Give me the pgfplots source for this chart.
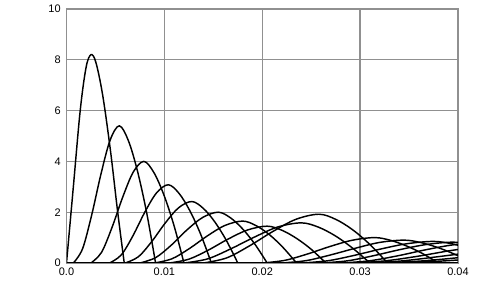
\documentclass[border=0pt]{standalone}
\usepackage{fontspec}
\setmainfont{Liberation Sans}
\usepackage{pgfplots}
\pgfplotsset{compat=1.18}
\definecolor{gridgray}{HTML}{909090}
\begin{document}
\fontsize{11}{12}\selectfont
\begin{tikzpicture}
\begin{axis}[
  at={(0,0)}, anchor=south west,
  scale only axis, width=391.5bp, height=254bp,
  xmin=0, xmax=0.04, ymin=0, ymax=10,
  scaled x ticks=false, scaled y ticks=false,
  xtick={0,0.01,0.02,0.03,0.04},
  xticklabels={0.0,0.01,0.02,0.03,0.04},
  ytick={0,2,4,6,8,10},
  yticklabels={0,2,4,6,8,10},
  major tick length=0pt,
  grid=major,
  grid style={gridgray, line width=1.3bp},
  axis line style={gridgray, line width=1.3bp},
  xticklabel style={yshift=-4bp, inner sep=1bp},
  yticklabel style={xshift=-2bp},
  /pgf/number format/assume math mode=true,
  clip=true,
  curve/.style={black, line width=1.45bp, smooth, tension=0.55},
]
% curve 1
\addplot[curve] coordinates {(0,0) (0.0007,3.0) (0.0014,6.0) (0.002,7.7) (0.0025,8.2) (0.003,7.9) (0.0037,6.6) (0.0045,4.4) (0.0052,2.1) (0.0059,0)};
% curve 2
\addplot[curve] coordinates {(0.0007,0) (0.00164,0.56) (0.00258,1.90) (0.00352,3.50) (0.00446,4.84) (0.0054,5.4) (0.00633,4.81) (0.00725,3.62) (0.00818,2.0) (0.0091,0)};
% curve 3
\addplot[curve] coordinates {(0.0025,0) (0.00358,0.42) (0.00466,1.41) (0.00574,2.59) (0.00682,3.58) (0.0079,4.0) (0.00893,3.56) (0.00995,2.68) (0.01098,1.48) (0.012,0)};
% curve 4
\addplot[curve] coordinates {(0.0044,0) (0.0056,0.32) (0.0068,1.08) (0.008,2.0) (0.0092,2.76) (0.0104,3.08) (0.0115,2.74) (0.0126,2.06) (0.0137,1.14) (0.0148,0)};
% curve 5
\addplot[curve] coordinates {(0.006,0) (0.00736,0.25) (0.00872,0.85) (0.01008,1.57) (0.01144,2.17) (0.0128,2.42) (0.01398,2.15) (0.01515,1.62) (0.01633,0.89) (0.0175,0)};
% curve 6
\addplot[curve] coordinates {(0.0075,0) (0.0091,0.21) (0.0107,0.70) (0.0123,1.30) (0.0139,1.79) (0.0155,2.0) (0.01675,1.78) (0.018,1.34) (0.01925,0.74) (0.0205,0)};
% curve 7
\addplot[curve] coordinates {(0.009,0) (0.0108,0.17) (0.0126,0.58) (0.0144,1.07) (0.0162,1.48) (0.018,1.65) (0.019375,1.47) (0.02075,1.11) (0.022125,0.61) (0.0235,0)};
% curve 8
\addplot[curve] coordinates {(0.0105,0) (0.0125,0.15) (0.0145,0.51) (0.0165,0.94) (0.0185,1.30) (0.0205,1.45) (0.022,1.29) (0.0235,0.97) (0.025,0.54) (0.0265,0)};
% curve 9
\addplot[curve] coordinates {(0.012,0) (0.0144,0.16) (0.0168,0.56) (0.0192,1.02) (0.0216,1.42) (0.024,1.58) (0.02575,1.41) (0.0275,1.06) (0.02925,0.58) (0.031,0)};
% curve 10
\addplot[curve] coordinates {(0.014,0) (0.01636,0.20) (0.01872,0.68) (0.02108,1.24) (0.02344,1.72) (0.0258,1.92) (0.02755,1.71) (0.0293,1.29) (0.03105,0.71) (0.0328,0)};
% curve 11
\addplot[curve] coordinates {(0.020,0) (0.0223,0.104) (0.0246,0.352) (0.0269,0.648) (0.0292,0.896) (0.0315,1.0) (0.03313,0.89) (0.03475,0.67) (0.03638,0.37) (0.038,0)};
% curve 12
\addplot[curve] coordinates {(0.022,0) (0.0245,0.094) (0.027,0.32) (0.0295,0.58) (0.032,0.81) (0.0345,0.9) (0.03625,0.80) (0.038,0.60) (0.03975,0.33) (0.0415,0)};
% curve 13
\addplot[curve] coordinates {(0.024,0) (0.0267,0.088) (0.0294,0.30) (0.0321,0.55) (0.0348,0.76) (0.0375,0.85) (0.039375,0.757) (0.04125,0.57)};
% curve 14
\addplot[curve] coordinates {(0.026,0) (0.0287,0.085) (0.0314,0.29) (0.0341,0.53) (0.0368,0.73) (0.0395,0.82) (0.0415,0.73)};
% curve 15
\addplot[curve] coordinates {(0.028,0) (0.0309,0.083) (0.0338,0.28) (0.0367,0.52) (0.0396,0.72) (0.0425,0.8)};
% curve 16
\addplot[curve] coordinates {(0.029,0) (0.0324,0.078) (0.0358,0.26) (0.0392,0.486) (0.0426,0.67)};
% curve 17
\addplot[curve] coordinates {(0.030,0) (0.034,0.073) (0.038,0.25) (0.042,0.45)};
% curve 18
\addplot[curve] coordinates {(0.031,0) (0.0358,0.068) (0.0406,0.23) (0.0454,0.42)};
% curve 19
\addplot[curve] coordinates {(0.032,0) (0.0376,0.062) (0.0432,0.21) (0.0488,0.39)};
% baseline
\addplot[black, line width=2.2bp] coordinates {(0,0) (0.04,0)};
\end{axis}
\pgfresetboundingbox
\path[use as bounding box] (-66.5bp,-22bp) rectangle (415.5bp,263bp);
\end{tikzpicture}
\end{document}
